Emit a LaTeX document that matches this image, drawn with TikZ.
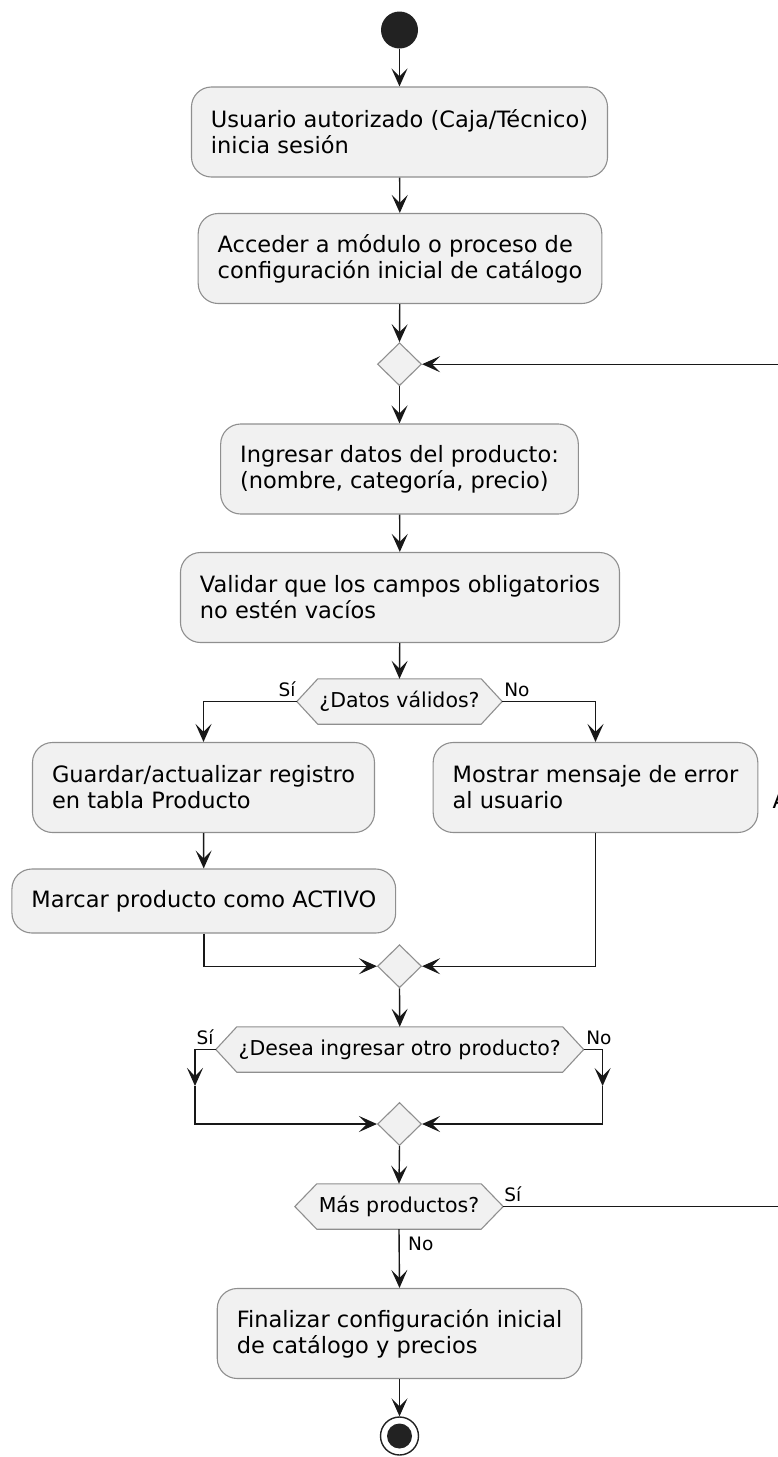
\documentclass[tikz,border=0pt]{standalone}
\usepackage{fontspec}
\setmainfont{DejaVu Sans}
\usetikzlibrary{arrows.meta,shapes.geometric,backgrounds}
\definecolor{boxfill}{HTML}{F1F1F1}
\definecolor{boxline}{HTML}{8F8F8F}
\definecolor{ink}{HTML}{181818}
\definecolor{dot}{HTML}{222222}
% outline of a flat-topped hexagon around a rectangular node
\newcommand{\drawhex}[2]{\path[hexa] ([xshift=#2]#1.north west) -- ([xshift=-#2]#1.north east) -- (#1.east) -- ([xshift=-#2]#1.south east) -- ([xshift=#2]#1.south west) -- (#1.west) -- cycle;}
\begin{document}
\begin{tikzpicture}[x=1pt,y=-1pt,
  action/.style={draw=boxline, line width=1.1pt, fill=boxfill, rounded corners=20pt,
    align=left, inner xsep=19.5pt, inner ysep=0pt, minimum height=90pt,
    font=\fontsize{22.5}{26}\selectfont, text=black},
  action1/.style={action, minimum height=64pt},
  merge/.style={diamond, draw=boxline, line width=1.1pt, fill=boxfill,
    minimum width=44pt, minimum height=43pt, inner sep=0pt},
  choice/.style={inner sep=0pt, minimum height=45pt, font=\fontsize{20.5}{24}\selectfont},
  hexa/.style={draw=boxline, line width=1.1pt, fill=boxfill},
  flow/.style={draw=ink, line width=1.4pt, -{Stealth[length=18pt,width=16pt,inset=8pt]}},
  lbl/.style={font=\fontsize{18.5}{22}\selectfont, inner sep=0pt},
]
\useasboundingbox (0,0) rectangle (778,1457);
\clip (0,0) rectangle (778,1457);

% start and end points
\node[circle, fill=dot, minimum size=37pt, inner sep=0pt] (start) at (399.5,30) {};
\node[circle, draw=dot, line width=1.4pt, fill=white, minimum size=38pt, inner sep=0pt] (stop) at (399.5,1436) {};
\node[circle, fill=dot, minimum size=25pt, inner sep=0pt] (stopdot) at (stop.center) {};

% actions
\node[action] (login) at (399.5,132) {Usuario autorizado (Caja/Técnico)\\inicia sesión};
\node[action] (acceso) at (400,258.5) {Acceder a módulo o proceso de\\configuración inicial de catálogo};
\node[merge] (bucle) at (399.5,364.2) {};
\node[action] (ingreso) at (399.5,469) {Ingresar datos del producto:\\(nombre, categoría, precio)};
\node[action] (valida) at (400,597.5) {Validar que los campos obligatorios\\no estén vacíos};
\node[choice, minimum width=205pt] (datos) at (399.5,701.5) {¿Datos válidos?};
\node[action] (guardar) at (203.5,787.5) {Guardar/actualizar registro\\en tabla Producto};
\node[action] (error) at (595.5,787.5) {Mostrar mensaje de error\\al usuario};
\node[anchor=base west, inner sep=0pt, font=\fontsize{22.5}{26}\selectfont] (margen) at (772.5,808) {A};
\node[action1] (activo) at (203.8,901) {Marcar producto como ACTIVO};
\node[merge] (union) at (399.5,966.2) {};
\node[choice, minimum width=367.5pt] (otro) at (399.75,1049.5) {¿Desea ingresar otro producto?};
\node[merge] (union2) at (399.5,1124) {};
\node[choice, minimum width=208pt] (mas) at (399,1206.5) {Más productos?};
\node[action] (fin) at (399.5,1333.5) {Finalizar configuración inicial\\de catálogo y precios};

\begin{scope}[on background layer]
  \drawhex{datos}{21pt}
  \drawhex{otro}{21pt}
  \drawhex{mas}{22pt}
\end{scope}

% branch labels
\node[lbl, anchor=base east] (datosSi) at ([xshift=-1pt,yshift=5pt]datos.west) {Sí};
\node[lbl, anchor=base west] (datosNo) at ([xshift=2pt,yshift=5pt]datos.east) {No};
\node[lbl, anchor=base east] (otroSi) at ([xshift=-2pt,yshift=5.5pt]otro.west) {Sí};
\node[lbl, anchor=base west] (otroNo) at ([xshift=2.5pt,yshift=5.5pt]otro.east) {No};
\node[lbl, anchor=base west] (masSi) at ([xshift=1pt,yshift=5pt]mas.east) {Sí};
\node[lbl, anchor=base west] (masNo) at ([xshift=9pt,yshift=-21pt]mas.south) {No};

% helper points on the loops
\coordinate (ramaSi) at (195,1086);
\coordinate (ramaNo) at (602.6,1086);
\coordinate (retorno) at (830,364.2);

% connectors
\draw[flow] (start) -- (login);
\draw[flow] (login) -- (acceso);
\draw[flow] (acceso) -- (bucle.north);
\draw[flow] (bucle.south) -- (ingreso);
\draw[flow] (ingreso) -- (valida);
\draw[flow] (valida) -- (datos.north);
\draw[flow] (datos.west) -| (guardar.north);
\draw[flow] (datos.east) -| (error.north);
\draw[flow] (guardar) -- (activo);
\draw[flow] (activo.south) |- (union.west);
\draw[flow] (error.south) |- (union.east);
\draw[flow] (union.south) -- (otro.north);
\draw[flow] (otro.west) -| (ramaSi);
\draw[flow] (ramaSi) |- (union2.west);
\draw[flow] (otro.east) -| (ramaNo);
\draw[flow] (ramaNo) |- (union2.east);
\draw[flow] (union2.south) -- (mas.north);
\draw[flow] (mas.east) -| (retorno) -- (bucle.east);
\draw[flow] (mas.south) -- (fin.north);
\draw[flow] (fin.south) -- (stop.north);
\end{tikzpicture}
\end{document}
